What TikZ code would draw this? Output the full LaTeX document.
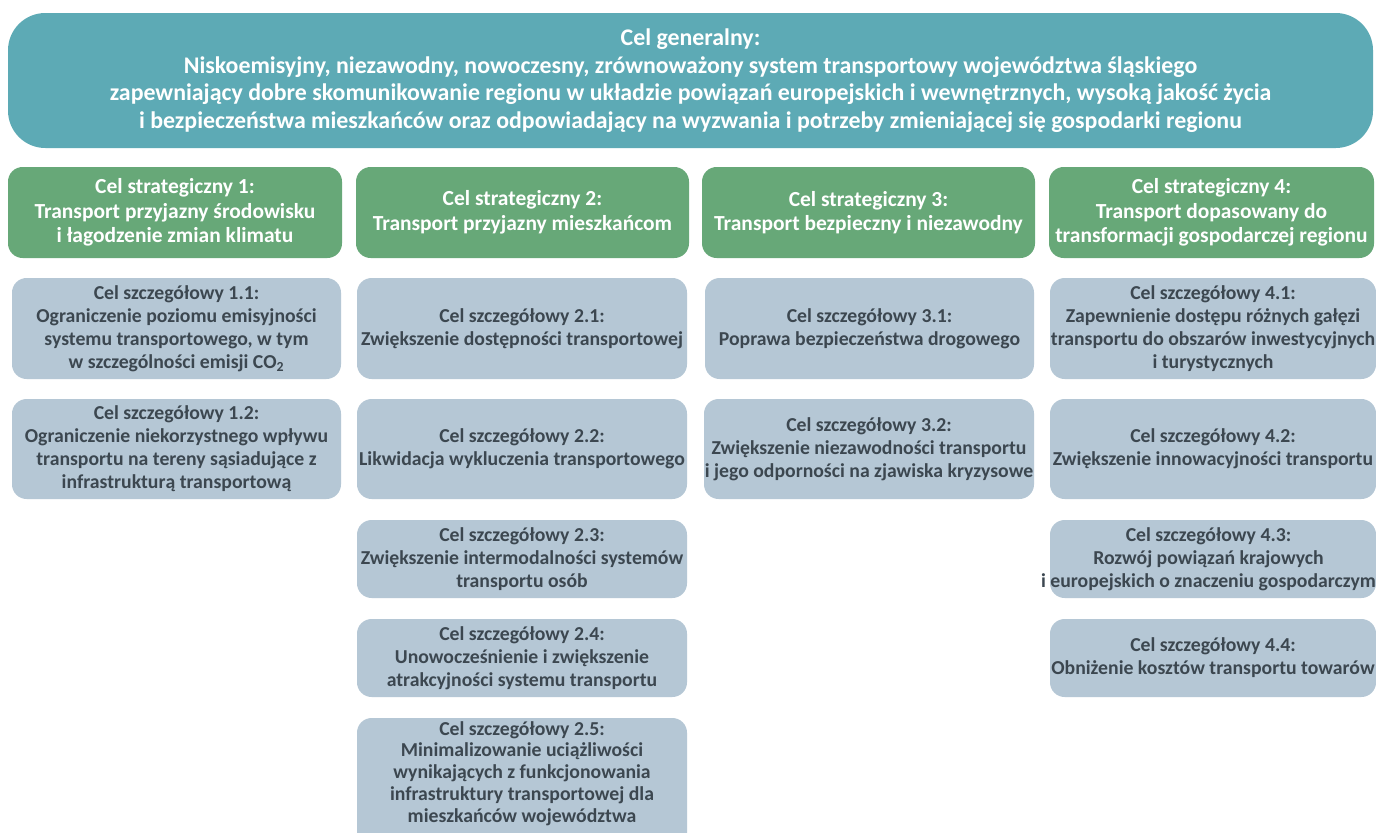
\documentclass[tikz,border=0pt]{standalone}
\usepackage{fontspec}
\setmainfont{Carlito}
\definecolor{teal1}{HTML}{5DAAB5}
\definecolor{green1}{HTML}{67A878}
\definecolor{gray1}{HTML}{B5C7D5}
\definecolor{gtext}{HTML}{3C4750}
\tikzset{
  topbox/.style={fill=teal1, rounded corners=28pt, text=white, font=\fontsize{17.9}{20.6}\selectfont\bfseries, align=center, inner sep=0pt},
  stratbox/.style={fill=green1, rounded corners=11pt, inner sep=0pt},
  strattext/.style={text=white, font=\fontsize{16.1}{18.4}\selectfont\bfseries, align=center, inner sep=0pt},
  detbox/.style={fill=gray1, rounded corners=11pt, inner sep=0pt},
  dettext/.style={text=gtext, font=\fontsize{14.8}{17.25}\selectfont\bfseries, align=center, inner sep=0pt},
}
\begin{document}
\begin{tikzpicture}[x=0.75pt,y=-0.75pt]
\useasboundingbox (0,0) rectangle (1376,832);
\clip (0,0) rectangle (1376,832);
\fill[white] (0,0) rectangle (1376,832);
\node[topbox, minimum width=1365*0.75pt, minimum height=135*0.75pt] (gen) at (690.5,80.5)
 {Cel generalny:\\
 Niskoemisyjny, niezawodny, nowoczesny, zrównoważony system transportowy województwa śląskiego\\
 zapewniający dobre skomunikowanie regionu w układzie powiązań europejskich i wewnętrznych, wysoką jakość życia\\
 i bezpieczeństwa mieszkańców oraz odpowiadający na wyzwania i potrzeby zmieniającej się gospodarki regionu};
\node[stratbox, minimum width=334*0.75pt, minimum height=91*0.75pt,
 label={[strattext]center:{Cel strategiczny 1:\\Transport przyjazny środowisku\\i łagodzenie zmian klimatu}}] (s1) at (175,212.5) {};
\node[stratbox, minimum width=333*0.75pt, minimum height=91*0.75pt,
 label={[strattext]center:{Cel strategiczny 2:\\Transport przyjazny mieszkańcom}}] (s2) at (522.5,212.5) {};
\node[stratbox, minimum width=333*0.75pt, minimum height=91*0.75pt,
 label={[strattext]center:{Cel strategiczny 3:\\Transport bezpieczny i niezawodny}}] (s3) at (868.5,212.5) {};
\node[stratbox, minimum width=325*0.75pt, minimum height=91*0.75pt,
 label={[strattext]center:{Cel strategiczny 4:\\Transport dopasowany do\\transformacji gospodarczej regionu}}] (s4) at (1211.5,212.5) {};
% column 1
\node[detbox, minimum width=329*0.75pt, minimum height=101*0.75pt,
 label={[dettext]center:{Cel szczegółowy 1.1:\\Ograniczenie poziomu emisyjności\\systemu transportowego, w tym\\w szczególności emisji CO\textsubscript{2}}}] (d11) at (176.5,328.5) {};
\node[detbox, minimum width=329*0.75pt, minimum height=100*0.75pt,
 label={[dettext]center:{Cel szczegółowy 1.2:\\Ograniczenie niekorzystnego wpływu\\transportu na tereny sąsiadujące z\\infrastrukturą transportową}}] (d12) at (176.5,449) {};
% column 2
\node[detbox, minimum width=330*0.75pt, minimum height=101*0.75pt,
 label={[dettext]center:{Cel szczegółowy 2.1:\\Zwiększenie dostępności transportowej}}] (d21) at (522,328.5) {};
\node[detbox, minimum width=330*0.75pt, minimum height=100*0.75pt,
 label={[dettext]center:{Cel szczegółowy 2.2:\\Likwidacja wykluczenia transportowego}}] (d22) at (522,449) {};
\node[detbox, minimum width=330*0.75pt, minimum height=78*0.75pt,
 label={[dettext]center:{Cel szczegółowy 2.3:\\Zwiększenie intermodalności systemów\\transportu osób}}] (d23) at (522,559) {};
\node[detbox, minimum width=330*0.75pt, minimum height=78*0.75pt,
 label={[dettext]center:{Cel szczegółowy 2.4:\\Unowocześnienie i zwiększenie\\atrakcyjności systemu transportu}}] (d24) at (522,658) {};
\node[detbox, minimum width=330*0.75pt, minimum height=132*0.75pt] (d25) at (522,784) {};
\node[dettext, font=\fontsize{14.8}{16.4}\selectfont\bfseries] (t25) at (522,773.5)
 {Cel szczegółowy 2.5:\\Minimalizowanie uciążliwości\\wynikających z funkcjonowania\\infrastruktury transportowej dla\\mieszkańców województwa};
% column 3
\node[detbox, minimum width=329*0.75pt, minimum height=101*0.75pt,
 label={[dettext]center:{Cel szczegółowy 3.1:\\Poprawa bezpieczeństwa drogowego}}] (d31) at (869.5,328.5) {};
\node[detbox, minimum width=330*0.75pt, minimum height=100*0.75pt,
 label={[dettext]center:{Cel szczegółowy 3.2:\\Zwiększenie niezawodności transportu\\i jego odporności na zjawiska kryzysowe}}] (d32) at (869,449) {};
% column 4
\node[detbox, minimum width=326*0.75pt, minimum height=101*0.75pt,
 label={[dettext]center:{Cel szczegółowy 4.1:\\Zapewnienie dostępu różnych gałęzi\\transportu do obszarów inwestycyjnych\\i turystycznych}}] (d41) at (1213,328.5) {};
\node[detbox, minimum width=326*0.75pt, minimum height=100*0.75pt,
 label={[dettext]center:{Cel szczegółowy 4.2:\\Zwiększenie innowacyjności transportu}}] (d42) at (1213,449) {};
\node[detbox, minimum width=326*0.75pt, minimum height=78*0.75pt] (d43) at (1213,559) {};
\node[dettext] (t43) at (1208.5,559)
 {Cel szczegółowy 4.3:\\Rozwój powiązań krajowych\\i europejskich o znaczeniu gospodarczym};
\node[detbox, minimum width=326*0.75pt, minimum height=78*0.75pt,
 label={[dettext]center:{Cel szczegółowy 4.4:\\Obniżenie kosztów transportu towarów}}] (d44) at (1213,658) {};
\end{tikzpicture}
\end{document}
